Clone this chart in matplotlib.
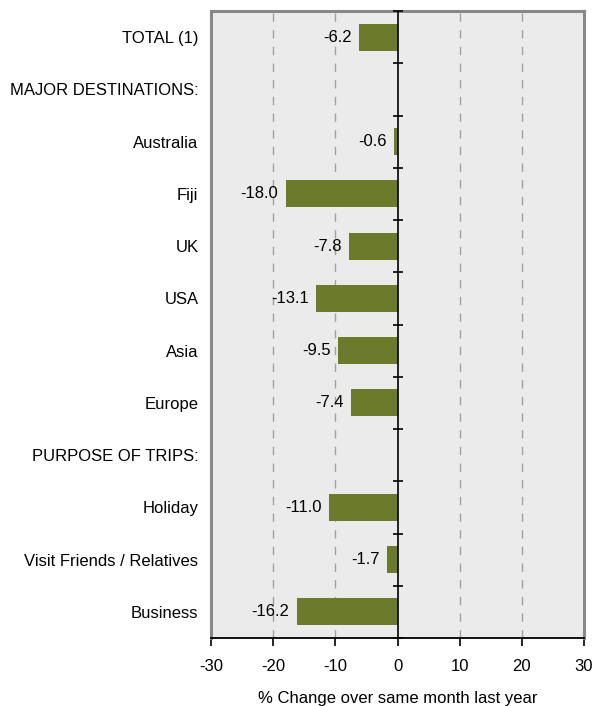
import matplotlib
matplotlib.use("Agg")
from matplotlib import pyplot as plt
import numpy as np

plt.rcParams['font.family'] = ['Liberation Sans', 'DejaVu Sans']

# Data
categories = ['TOTAL (1)', 'MAJOR DESTINATIONS:', 'Australia', 'Fiji', 'UK', 'USA',
              'Asia', 'Europe', 'PURPOSE OF TRIPS:', 'Holiday',
              'Visit Friends / Relatives', 'Business']
values = [-6.2, None, -0.6, -18.0, -7.8, -13.1, -9.5, -7.4, None, -11.0, -1.7, -16.2]
x_ticks = [-30, -20, -10, 0, 10, 20, 30]

FS = 12.0

fig = plt.figure(figsize=(5.94, 7.06), dpi=100)
ax = fig.add_axes([211 / 594, 1 - 638 / 706, 373 / 594, 627 / 706])
ax.set_facecolor('#ebebeb')

n = len(categories)
y = np.arange(n)
for yi, v in zip(y, values):
    if v is None:
        continue
    ax.barh(yi, v, height=0.52, color='#6b7a2b', zorder=3)
    ax.text(v - 1.2, yi, f'{v:.1f}', ha='right', va='center', fontsize=FS, zorder=4)

# gridlines
for g in [-20, -10, 10, 20]:
    ax.axvline(g, color='#a0a0a0', linestyle=(0, (6, 6)), linewidth=1, zorder=1)

# zero line with small ticks at the category boundaries
ax.axvline(0, color='black', linewidth=1.2, zorder=5)
bounds = np.arange(n + 1) - 0.5
ax.plot(np.zeros(len(bounds)), bounds, linestyle='none', marker='_', markersize=7,
        markeredgewidth=1.2, color='black', zorder=5, clip_on=False)

ax.set_xlim(-30, 30)
ax.set_ylim(n - 0.5, -0.5)
ax.set_xticks(x_ticks)
ax.set_xticklabels([str(t) for t in x_ticks], fontsize=FS)
ax.set_yticks(y)
ax.set_yticklabels(categories, fontsize=FS)
ax.tick_params(axis='y', length=0, pad=9)
ax.tick_params(axis='x', length=6, width=1.2, color='black', pad=9, direction='out')

for side in ['left', 'right', 'top']:
    ax.spines[side].set_color('#888888')
    ax.spines[side].set_linewidth(2.2)
ax.spines['bottom'].set_color('black')
ax.spines['bottom'].set_linewidth(1.3)

ax.set_xlabel('% Change over same month last year', fontsize=FS, labelpad=12)

fig.savefig('out.png', dpi=100)
